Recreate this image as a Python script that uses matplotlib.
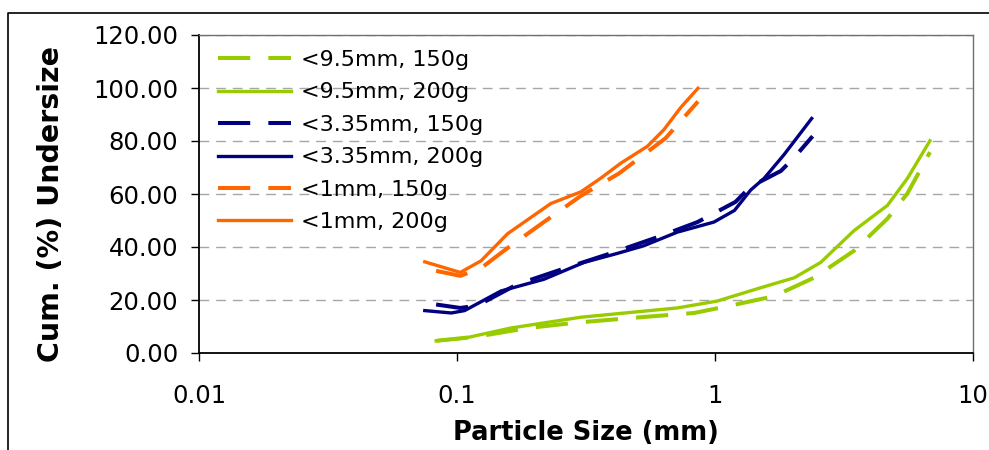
import matplotlib
matplotlib.use("Agg")
import matplotlib.pyplot as plt
from matplotlib.lines import Line2D

# values
size_95_150 = [0.083, 0.12, 0.187, 0.293, 0.531, 0.83, 1.15, 1.69, 2.42, 3.46, 4.66, 5.57, 6.81]
cum_95_150 = [4.6, 6.2, 9.4, 11.5, 13.6, 15.1, 17.9, 21.4, 28.4, 38.6, 50.7, 60.2, 75.8]

size_95_200 = [0.083, 0.107, 0.161, 0.302, 0.714, 1.02, 1.5, 2.03, 2.57, 3.46, 4.66, 5.57, 6.81]
cum_95_200 = [4.6, 5.6, 9.4, 13.5, 17.0, 19.6, 24.6, 28.4, 34.2, 46.2, 55.7, 65.9, 80.1]

size_335_150 = [0.083, 0.103, 0.12, 0.171, 0.268, 0.394, 0.598, 0.855, 1.2, 1.375, 1.8, 2.03, 2.39]
cum_335_150 = [18.3, 17.0, 17.9, 25.9, 32.3, 37.6, 43.7, 49.4, 57.0, 62.8, 68.7, 73.8, 81.8]

size_335_200 = [0.075, 0.095, 0.107, 0.148, 0.217, 0.311, 0.419, 0.531, 0.714, 0.99, 1.19, 1.375, 1.55, 1.85, 2.37]
cum_335_200 = [16.0, 15.1, 16.0, 23.4, 27.8, 34.2, 37.6, 40.5, 45.6, 49.4, 53.8, 61.5, 65.9, 74.8, 88.5]

size_1_150 = [0.083, 0.103, 0.125, 0.155, 0.217, 0.302, 0.425, 0.644, 0.859]
cum_1_150 = [31.0, 29.1, 32.3, 39.2, 49.4, 59.3, 67.8, 81.1, 94.9]

size_1_200 = [0.075, 0.103, 0.124, 0.157, 0.231, 0.302, 0.36, 0.431, 0.547, 0.634, 0.736, 0.859]
cum_1_200 = [34.4, 30.4, 34.8, 45.0, 56.4, 60.8, 65.9, 71.6, 78.0, 84.3, 92.6, 99.9]

y_ticks = [0, 20, 40, 60, 80, 100, 120]
x_ticks = [0.01, 0.1, 1, 10]
x_tick_labels = ["0.01", "0.1", "1", "10"]

green = "#99CC00"
navy = "#000080"
orange = "#FF6600"
dash = (0, (8, 4.5))

fig = plt.figure(figsize=(9.89, 4.5), dpi=100)
ax = fig.add_axes([199 / 989, 1 - 353 / 450, 774 / 989, 318 / 450])

lw = 2.4
lwd = 2.9
ax.plot(size_95_150, cum_95_150, color=green, lw=lwd, ls=dash, label="<9.5mm, 150g")
ax.plot(size_95_200, cum_95_200, color=green, lw=lw, label="<9.5mm, 200g")
ax.plot(size_335_150, cum_335_150, color=navy, lw=lwd, ls=dash, label="<3.35mm, 150g")
ax.plot(size_335_200, cum_335_200, color=navy, lw=lw, label="<3.35mm, 200g")
ax.plot(size_1_150, cum_1_150, color=orange, lw=lwd, ls=dash, label="<1mm, 150g")
ax.plot(size_1_200, cum_1_200, color=orange, lw=lw, label="<1mm, 200g")

ax.set_xscale("log")
ax.set_xlim(0.01, 10)
ax.set_ylim(0, 120)
ax.set_xticks(x_ticks)
ax.set_xticklabels(x_tick_labels)
ax.minorticks_off()
ax.set_yticks(y_ticks)
ax.set_yticklabels([f"{v:.2f}" for v in y_ticks])

ax.yaxis.grid(True, color="#A6A6A6", lw=1.0, ls=(0, (7, 5)))
ax.set_axisbelow(True)
for side in ["top", "right"]:
    ax.spines[side].set_color("#707070")
    ax.spines[side].set_linewidth(1.0)
for side in ["left", "bottom"]:
    ax.spines[side].set_color("black")
    ax.spines[side].set_linewidth(1.3)

ax.tick_params(axis="y", length=6, width=1, pad=9, labelsize=17.5)
ax.tick_params(axis="x", length=6, width=1, pad=16, labelsize=17.5)

ax.set_xlabel("Particle Size (mm)", fontsize=18.5, fontweight="bold", labelpad=9)
ax.set_ylabel("Cum. (%) Undersize", fontsize=20.5, fontweight="bold", labelpad=20, y=0.47)

ax.legend(loc="upper left", bbox_to_anchor=(19 / 774, 1 - 15 / 318), frameon=False,
          fontsize=16, handlelength=3.3, handletextpad=0.45, labelspacing=0.56,
          borderpad=0, borderaxespad=0)

# outer chart border
fig.add_artist(Line2D([8 / 989, 8 / 989, 1], [0, 1 - 13 / 450, 1 - 13 / 450],
                      color="black", lw=1.2, transform=fig.transFigure))

fig.savefig("out.png", dpi=100)
